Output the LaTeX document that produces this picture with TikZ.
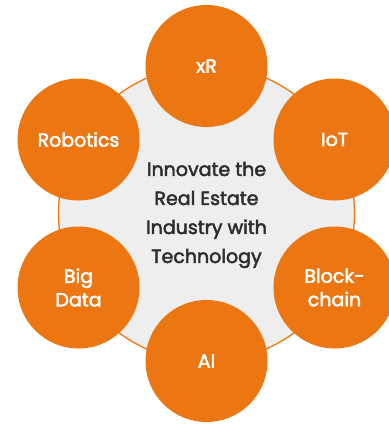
\documentclass[tikz,border=0pt]{standalone}
\usepackage{fontspec}
\setmainfont{Poppins}
\newfontfamily\mfont{Poppins}[FakeBold=2.5]
\definecolor{orng}{HTML}{EC7712}
\definecolor{bg}{HTML}{EEEEEE}
\definecolor{txt}{HTML}{2E2E2E}
\begin{document}
\begin{tikzpicture}[x=1pt,y=-1pt,
  sat/.style={circle,fill=orng,minimum size=122pt,inner sep=0pt,text=white,font=\mfont\fontsize{19}{23.5}\selectfont,align=center},
  hub/.style={circle,draw=orng,line width=1.3pt,fill=bg,minimum size=296pt,inner sep=0pt}]
\useasboundingbox (0,0) rectangle (389,424);
\begin{scope}
\clip (0,0) rectangle (389,424);
\node[hub] (hub) at (206.5,213.5) {};
\node[text=txt,font=\mfont\fontsize{19}{29}\selectfont,align=center] (title) at (206.5,215) {Innovate the\\Real Estate\\Industry with\\Technology};
\node[sat] (xr) at (206.5,66) {xR};
\node[sat] (iot) at (334.5,139.5) {IoT};
\node[sat] (bc) at (334.5,287.5) {Block-\\chain};
\node[sat] (ai) at (206.5,361) {AI};
\node[sat] (bd) at (78.5,287.5) {Big\\Data};
\node[sat] (rb) at (78.5,139.5) {Robotics};
\end{scope}
\end{tikzpicture}
\end{document}
